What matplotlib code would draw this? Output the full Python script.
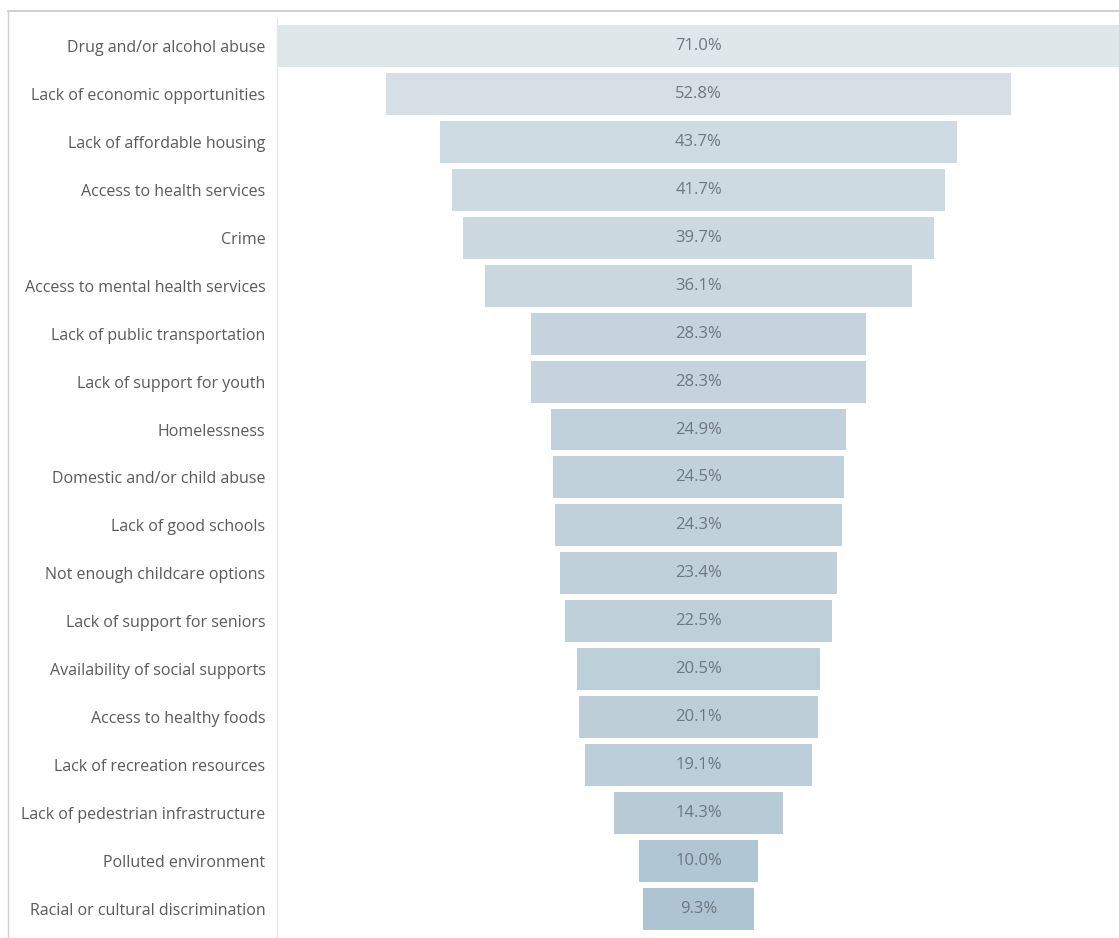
import numpy as np
import matplotlib.pyplot as plt
from matplotlib.lines import Line2D
from matplotlib.colors import LinearSegmentedColormap

categories = [
    'Drug and/or alcohol abuse',
    'Lack of economic opportunities',
    'Lack of affordable housing',
    'Access to health services',
    'Crime',
    'Access to mental health services',
    'Lack of public transportation',
    'Lack of support for youth',
    'Homelessness',
    'Domestic and/or child abuse',
    'Lack of good schools',
    'Not enough childcare options',
    'Lack of support for seniors',
    'Availability of social supports',
    'Access to healthy foods',
    'Lack of recreation resources',
    'Lack of pedestrian infrastructure',
    'Polluted environment',
    'Racial or cultural discrimination',
]
values = [71.0, 52.8, 43.7, 41.7, 39.7, 36.1, 28.3, 28.3, 24.9, 24.5,
          24.3, 23.4, 22.5, 20.5, 20.1, 19.1, 14.3, 10.0, 9.3]

W, H = 1119, 938
fig = plt.figure(figsize=(W / 100, H / 100), dpi=100)

# axes spans from the divider to the right edge
ax = fig.add_axes([278 / W, 0, 1 - 278 / W, 1 - 11 / H])

# light-to-dark blue-gray by value
cmap = LinearSegmentedColormap.from_list('bg', ['#afc4d2', '#dfe7ea'])
vmin, vmax = min(values), max(values)
colors = [cmap(((v - vmin) / (vmax - vmin)) ** 0.7) for v in values]

y = np.arange(len(values))
vals = np.array(values)
ax.barh(y, vals, left=-vals / 2, height=0.875, color=colors, edgecolor='none')

for yi, v in zip(y, values):
    ax.text(0, yi, f'{v:.1f}%', ha='center', va='center',
            fontsize=12, color='#6d7780', family='Open Sans')

ax.set_xlim(-35.5, 35.5)
pitch = 47.94
ax.set_ylim((938 - 46) / pitch, -(46 - 11) / pitch)
ax.set_yticks(y)
ax.set_yticklabels(categories, fontsize=11.5, color='#5a5a5a', family='Open Sans')
ax.tick_params(axis='y', length=0, pad=9)
ax.set_xticks([])
for s in ax.spines.values():
    s.set_visible(False)

# frame lines around the view
fig.add_artist(Line2D([8 / W, 1], [1 - 11 / H, 1 - 11 / H], color='#c8c8c8', lw=1.2))
fig.add_artist(Line2D([8 / W, 8 / W], [0, 1 - 11 / H], color='#d0d0d0', lw=1))
fig.add_artist(Line2D([277 / W, 277 / W], [0, 1 - 18 / H], color='#e6e6e6', lw=1))

fig.savefig('out.png', dpi=100)
